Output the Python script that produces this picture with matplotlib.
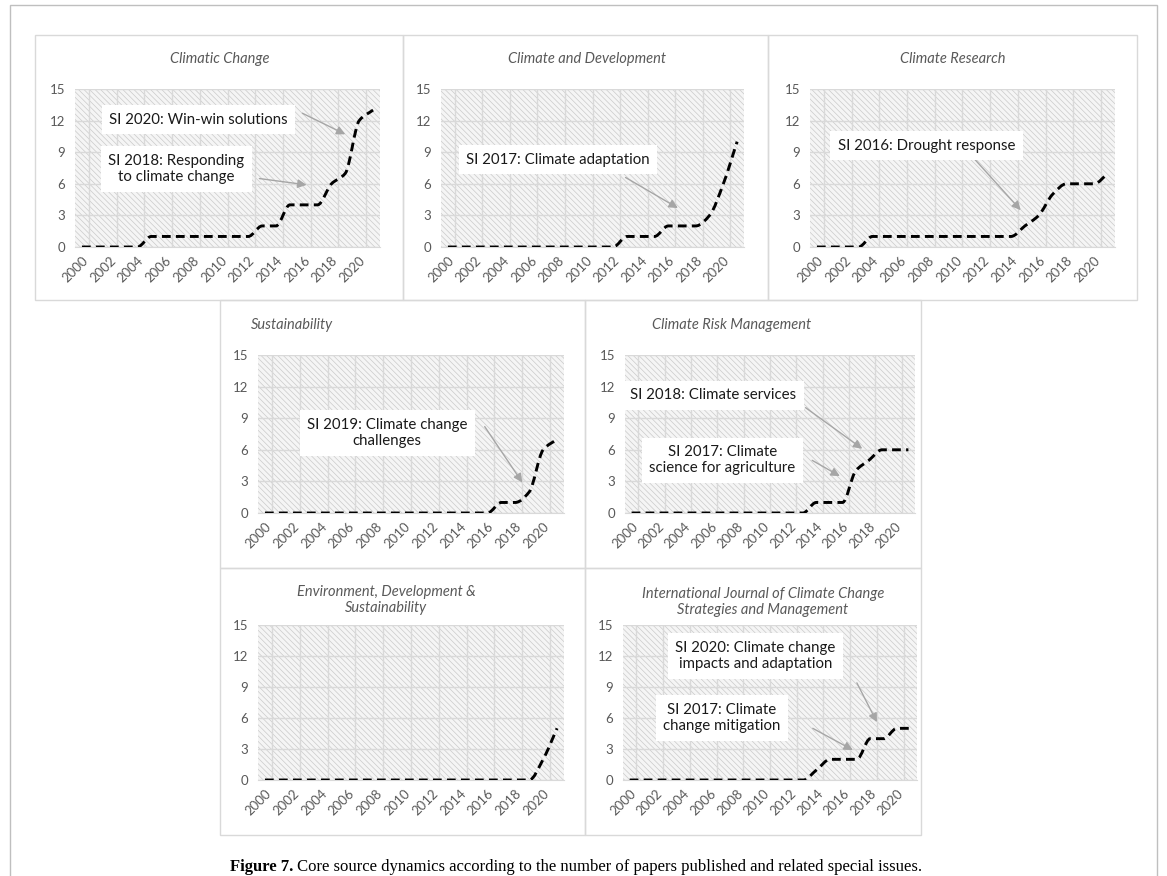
import numpy as np
import matplotlib.pyplot as plt
from matplotlib.patches import Rectangle, PathPatch
from matplotlib.path import Path

# данные: число статей по годам
years = list(range(2000, 2022))
climatic_change = [0, 0, 0, 0, 0, 1, 1, 1, 1, 1, 1, 1, 1, 2, 2, 4, 4, 4, 6, 7, 12, 13]
climate_development = [0, 0, 0, 0, 0, 0, 0, 0, 0, 0, 0, 0, 0, 1, 1, 1, 2, 2, 2, 3, 6, 10]
climate_research = [0, 0, 0, 0, 1, 1, 1, 1, 1, 1, 1, 1, 1, 1, 1, 2, 3, 5, 6, 6, 6, 7]
sustainability = [0, 0, 0, 0, 0, 0, 0, 0, 0, 0, 0, 0, 0, 0, 0, 0, 0, 1, 1, 2, 6, 7]
climate_risk = [0, 0, 0, 0, 0, 0, 0, 0, 0, 0, 0, 0, 0, 0, 1, 1, 1, 4, 5, 6, 6, 6]
env_dev_sust = [0, 0, 0, 0, 0, 0, 0, 0, 0, 0, 0, 0, 0, 0, 0, 0, 0, 0, 0, 0, 2, 5]
ijccsm = [0, 0, 0, 0, 0, 0, 0, 0, 0, 0, 0, 0, 0, 0, 1, 2, 2, 2, 4, 4, 5, 5]

titles = ['Climatic Change', 'Climate and Development', 'Climate Research',
          'Sustainability', 'Climate Risk Management',
          'Environment, Development &\nSustainability',
          'International Journal of Climate Change\nStrategies and Management']
series = [climatic_change, climate_development, climate_research,
          sustainability, climate_risk, env_dev_sust, ijccsm]

# подписи спецвыпусков: (текст, позиция текста, остриё стрелки, начало стрелки)
notes = [
    [('SI 2020: Win-win solutions', (2008.4, 12.1), (2019.0, 10.7), (2015.9, 12.7)),
     ('SI 2018: Responding\nto climate change', (2006.8, 7.4), (2016.2, 5.9), (2012.8, 6.5))],
    [('SI 2017: Climate adaptation', (2008.0, 8.3), (2016.7, 3.7), (2012.9, 6.6))],
    [('SI 2016: Drought response', (2007.9, 9.6), (2014.7, 3.5), (2011.4, 8.3))],
    [('SI 2019: Climate change\nchallenges', (2008.8, 7.6), (2018.5, 2.9), (2015.8, 8.2))],
    [('SI 2018: Climate services', (2006.2, 11.2), (2017.5, 6.1), (2013.2, 10.0)),
     ('SI 2017: Climate\nscience for agriculture', (2006.9, 5.0), (2015.8, 3.5), (2013.7, 5.0))],
    [],
    [('SI 2020: Climate change\nimpacts and adaptation', (2009.4, 12.0), (2018.5, 5.6), (2017.0, 9.4)),
     ('SI 2017: Climate\nchange mitigation', (2006.9, 6.0), (2016.7, 2.9), (2013.7, 5.0))],
]

W, H = 1167, 876
# рамки панелей и области графиков в пикселях (left, top, right, bottom)
frames = [(35, 35, 403, 300), (403, 35, 768, 300), (768, 35, 1137, 300),
          (220, 300, 585, 568), (585, 300, 921, 568),
          (220, 568, 585, 835), (585, 568, 921, 835)]
plots = [(75, 89, 380, 247), (441, 89, 744, 247), (810, 89, 1115, 247),
         (258, 355, 564, 513), (625, 355, 915, 513),
         (258, 625, 564, 780), (623, 625, 917, 780)]
title_pos = [(220, 59), (587, 59), (953, 59), (292, 325), (732, 325),
             (386, 600), (763, 602)]

plt.rcParams['font.family'] = ['Lato', 'DejaVu Sans']
plt.rcParams['hatch.linewidth'] = 0.5

fig = plt.figure(figsize=(W / 100, H / 100), dpi=100)

def fx(x):
    return x / W

def fy(y):
    return 1 - y / H

def smooth_path(xs, ys):
    # кривая Безье с монотонными касательными (похоже на сглаживание Excel)
    xs = np.asarray(xs, float)
    ys = np.asarray(ys, float)
    n = len(xs)
    sec = np.diff(ys) / np.diff(xs)
    d = np.zeros(n)
    for k in range(1, n - 1):
        a, b = sec[k - 1], sec[k]
        if a * b > 0:
            d[k] = 2 * a * b / (a + b)
    d[0] = sec[0] if sec[0] * (sec[1] if n > 2 else sec[0]) > 0 else 0
    d[-1] = sec[-1]
    verts = [(xs[0], ys[0])]
    codes = [Path.MOVETO]
    for k in range(n - 1):
        h = xs[k + 1] - xs[k]
        verts += [(xs[k] + h / 3, ys[k] + d[k] * h / 3),
                  (xs[k + 1] - h / 3, ys[k + 1] - d[k + 1] * h / 3),
                  (xs[k + 1], ys[k + 1])]
        codes += [Path.CURVE4] * 3
    return Path(verts, codes)

# внешняя рамка
fig.add_artist(Rectangle((fx(10), fy(880)), fx(1157) - fx(10), fy(5) - fy(880),
                         transform=fig.transFigure, fill=False,
                         edgecolor='#bfbfbf', lw=1))

for i in range(7):
    l, t, r, b = frames[i]
    fig.add_artist(Rectangle((fx(l), fy(b)), fx(r) - fx(l), fy(t) - fy(b),
                             transform=fig.transFigure, fill=False,
                             edgecolor='#d9d9d9', lw=1))
    pl, pt, pr, pb = plots[i]
    ax = fig.add_axes([fx(pl), fy(pb), fx(pr) - fx(pl), fy(pt) - fy(pb)])
    ax.set_facecolor('white')
    ax.add_patch(Rectangle((0, 0), 1, 1, transform=ax.transAxes,
                           facecolor='#f5f5f5', edgecolor='#cacaca',
                           hatch='\\\\\\\\\\\\', lw=0, zorder=0))
    ax.set_xlim(1999.5, 2021.5)
    ax.set_ylim(0, 15)
    ax.set_yticks([0, 3, 6, 9, 12, 15])
    ax.set_xticks(years[::2])
    ax.set_xticks([y + 0.5 for y in years[::2]], minor=True)
    ax.grid(axis='y', color='#d9d9d9', lw=1, zorder=1)
    ax.grid(axis='x', which='minor', color='#d9d9d9', lw=1, zorder=1)
    ax.set_axisbelow(True)
    for s in ['top', 'right', 'left']:
        ax.spines[s].set_visible(False)
    ax.spines['bottom'].set_color('#d9d9d9')
    ax.tick_params(length=0, which='both', labelsize=9.5, colors='#595959')
    ax.tick_params(axis='y', pad=7)
    ax.tick_params(axis='x', pad=5)
    for lab in ax.get_xticklabels():
        lab.set_rotation(45)
        lab.set_ha('right')
        lab.set_rotation_mode('anchor')

    ax.add_patch(PathPatch(smooth_path(years, series[i]), fill=False,
                           edgecolor='black', lw=2.1,
                           linestyle=(0, (3, 1.8)), zorder=3))

    for txt, tpos, head, start in notes[i]:
        ax.annotate('', xy=head, xytext=start,
                    arrowprops=dict(arrowstyle='-|>', color='#a6a6a6', lw=1,
                                    mutation_scale=13, shrinkA=0, shrinkB=0),
                    zorder=4)
        ax.text(tpos[0], tpos[1], txt, ha='center', va='center', fontsize=10.8,
                color='#1a1a1a', linespacing=1.2, zorder=5,
                bbox=dict(boxstyle='square,pad=0.5', facecolor='white',
                          edgecolor='none'))

    tx, ty = title_pos[i]
    fig.text(fx(tx), fy(ty), titles[i], ha='center', va='center',
             fontsize=10.5, style='italic', color='#595959', linespacing=1.25)

# подпись рисунка: жирное начало и обычный текст
cap1 = fig.text(fx(230), fy(871), 'Figure 7.', ha='left', va='baseline',
                fontsize=12, fontweight='bold', family='Liberation Serif')
fig.canvas.draw()
ext = cap1.get_window_extent()
fig.text(ext.x1 / W, fy(871),
         ' Core source dynamics according to the number of papers published and related special issues.',
         ha='left', va='baseline', fontsize=12, family='Liberation Serif')

fig.savefig('out.png', dpi=100)
